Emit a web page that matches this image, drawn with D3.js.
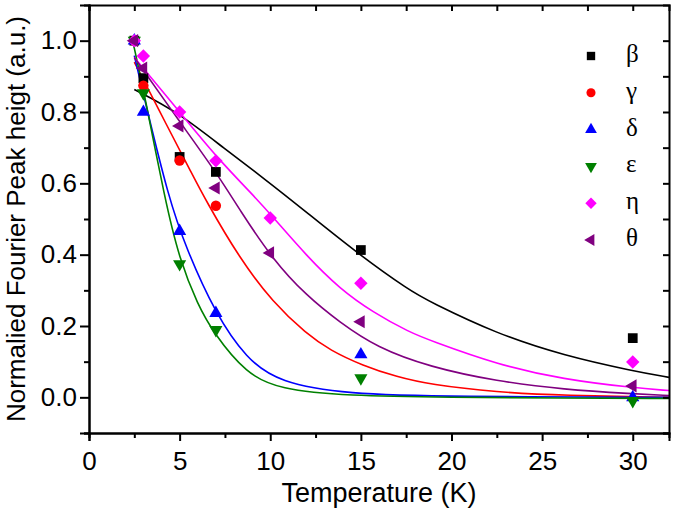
<!DOCTYPE html>
<html><head><meta charset="utf-8">
<script src="https://cdn.jsdelivr.net/npm/d3@7"></script>
<style>body{margin:0;background:#fff}svg{display:block}</style>
</head><body><svg id="c" width="675" height="524"></svg>
<script>
// ---- data ----
const seriesNames = ["β","γ","δ","ε","η","θ"];
const seriesColors = ["#000000","#ff0000","#0000ff","#008000","#ff00ff","#800080"];
const seriesSymbols = ["square","circle","triUp","triDown","diamond","triLeft"];

const ptsBeta  = [[2.5,1.0],[3,0.895],[5,0.674],[7,0.632],[15,0.413],[30,0.166]];
const ptsGamma = [[2.5,1.0],[3,0.874],[5,0.664],[7,0.537]];
const ptsDelta = [[2.5,1.0],[3,0.80],[5,0.466],[7,0.236],[15,0.12],[30,0.0]];
const ptsEps   = [[2.5,1.0],[3,0.853],[5,0.374],[7,0.189],[15,0.054],[30,-0.01]];
const ptsEta   = [[2.5,1.0],[3,0.957],[5,0.80],[7,0.663],[10,0.503],[15,0.32],[30,0.099]];
const ptsTheta = [[2.5,1.0],[3,0.923],[5,0.761],[7,0.587],[10,0.405],[15,0.212],[30,0.032]];

const fitBeta  = [[2.5,0.863],[4.9,0.80],[7.5,0.696],[9.7,0.612],[12,0.519],[14.85,0.402],[17.7,0.299],[18.8,0.268],[22.5,0.178],[26.2,0.117],[30,0.074],[32,0.056]];
const fitGamma = [[2.5,0.94],[4.36,0.756],[5.65,0.63],[6.4,0.556],[8.3,0.39],[10.16,0.265],[12,0.178],[13.3,0.132],[15.1,0.089],[17,0.057],[18.8,0.036],[22.5,0.014],[26.2,0.005],[32,0.0]];
const fitDelta = [[2.5,0.958],[3.0,0.85],[4.4,0.556],[5.38,0.416],[6.94,0.238],[8.69,0.107],[10.5,0.042],[14.2,0.009],[20,0.002],[32,0.0]];
const fitEps   = [[2.43,0.995],[3.08,0.846],[4.18,0.556],[5.0,0.385],[6.0,0.26],[6.85,0.182],[8.69,0.065],[10.5,0.023],[14.2,0.004],[20,0.0],[26,-0.002],[32,-0.003]];
const fitEta   = [[2.5,0.953],[5,0.80],[7,0.675],[9,0.57],[10.16,0.505],[12,0.397],[13.84,0.304],[15.68,0.238],[17.7,0.182],[18.8,0.16],[22.5,0.092],[26.2,0.05],[30,0.027],[32,0.019]];
const fitTheta = [[2.5,0.953],[4.9,0.78],[7.1,0.625],[8.32,0.525],[10.16,0.385],[12,0.285],[13.84,0.21],[15.87,0.14],[18.8,0.085],[22.5,0.045],[26.2,0.022],[30,0.01],[32,0.005]];

const seriesPts = [ptsBeta, ptsGamma, ptsDelta, ptsEps, ptsEta, ptsTheta];
const seriesFits = [fitBeta, fitGamma, fitDelta, fitEps, fitEta, fitTheta];

const xMajor = [0,5,10,15,20,25,30];
const xMinor = [2.5,7.5,12.5,17.5,22.5,27.5];
const yMajor = [0.0,0.2,0.4,0.6,0.8,1.0];
const yMinor = [-0.1,0.1,0.3,0.5,0.7,0.9];
const xTitle = "Temperature (K)";
const yTitle = "Normalied Fourier Peak heigt (a.u.)";

// ---- layout ----
const L = 89, R = 669, T = 5, B = 433;
const x = d3.scaleLinear().domain([0,32]).range([L,R]);
const y = d3.scaleLinear().domain([-0.1,1.1]).range([B,T]);
const svg = d3.select("#c");

// fits
const line = d3.line().x(d=>x(d[0])).y(d=>y(d[1])).curve(d3.curveBasis);
const plot = svg.append("g");
seriesFits.forEach((f,i)=>{
  plot.append("path").attr("d",line(f)).attr("fill","none")
    .attr("stroke",seriesColors[i]).attr("stroke-width",1.6);
});

function symPath(kind, s){
  switch(kind){
    case "square": return {d:d3.symbol(d3.symbolSquare, s.sq)(), r:0};
    case "circle": return {d:d3.symbol(d3.symbolCircle, s.ci)(), r:0};
    case "triUp": return {d:d3.symbol(d3.symbolTriangle, s.tr)(), r:0};
    case "triDown": return {d:d3.symbol(d3.symbolTriangle, s.tr)(), r:180};
    case "triLeft": return {d:d3.symbol(d3.symbolTriangle, s.tr)(), r:-90};
    case "diamond": return {d:d3.symbol(d3.symbolSquare, s.di)(), r:45};
  }
}
const plotSize = {sq:95, ci:85, tr:75, di:90};
const legSize = {sq:70, ci:65, tr:60, di:65};

seriesPts.forEach((pts,i)=>{
  const sp = symPath(seriesSymbols[i], plotSize);
  plot.selectAll(null).data(pts).enter().append("path")
    .attr("d", sp.d)
    .attr("transform", d=>`translate(${x(d[0])},${y(d[1])}) rotate(${sp.r})`)
    .attr("fill", seriesColors[i]);
});

// axes
const fontSans = "'Liberation Sans', Arial, sans-serif";
function styleAxis(g){
  g.select(".domain").attr("stroke","#000").attr("stroke-width",2);
  g.selectAll(".tick line").attr("stroke","#000").attr("stroke-width",2);
  g.selectAll(".tick text").attr("font-family",fontSans).attr("font-size",26).attr("fill","#000");
}
const gx = svg.append("g").attr("transform",`translate(0,${B})`)
  .call(d3.axisBottom(x).tickValues(xMajor).tickSize(8).tickPadding(11).tickFormat(d3.format("d")));
styleAxis(gx);
const gxm = svg.append("g").attr("transform",`translate(0,${B})`)
  .call(d3.axisBottom(x).tickValues(xMinor).tickSize(5).tickFormat(""));
styleAxis(gxm);
const gy = svg.append("g").attr("transform",`translate(${L},0)`)
  .call(d3.axisLeft(y).tickValues(yMajor).tickSize(9).tickPadding(3).tickFormat(d3.format(".1f")));
styleAxis(gy);
const gym = svg.append("g").attr("transform",`translate(${L},0)`)
  .call(d3.axisLeft(y).tickValues(yMinor).tickSize(5).tickFormat(""));
styleAxis(gym);
// right and top
const gr = svg.append("g").attr("transform",`translate(${R},0)`)
  .call(d3.axisLeft(y).tickValues(yMajor.concat(yMinor)).tickSize(6).tickFormat(""));
styleAxis(gr);
const gt = svg.append("g").attr("transform",`translate(0,${T})`)
  .call(d3.axisBottom(x).tickValues(xMajor.concat(xMinor)).tickSize(6).tickFormat(""));
styleAxis(gt);

// titles
svg.append("text").attr("x",(L+R)/2).attr("y",502).attr("text-anchor","middle")
  .attr("font-family",fontSans).attr("font-size",27).text(xTitle);
svg.append("text").attr("transform",`translate(25,${(T+B)/2}) rotate(-90)`).attr("text-anchor","middle")
  .attr("font-family",fontSans).attr("font-size",26).text(yTitle);

// legend
const legX = 591, legY0 = 56, legDY = 36.8;
seriesNames.forEach((n,i)=>{
  const yy = legY0 + i*legDY;
  const sp = symPath(seriesSymbols[i], legSize);
  svg.append("path").attr("d",sp.d).attr("transform",`translate(${legX},${yy}) rotate(${sp.r})`)
    .attr("fill",seriesColors[i]);
  svg.append("text").attr("x",626).attr("y",yy+6).attr("font-family","'Liberation Serif', 'Times New Roman', serif")
    .attr("font-size",25).text(n);
});
</script></body></html>
